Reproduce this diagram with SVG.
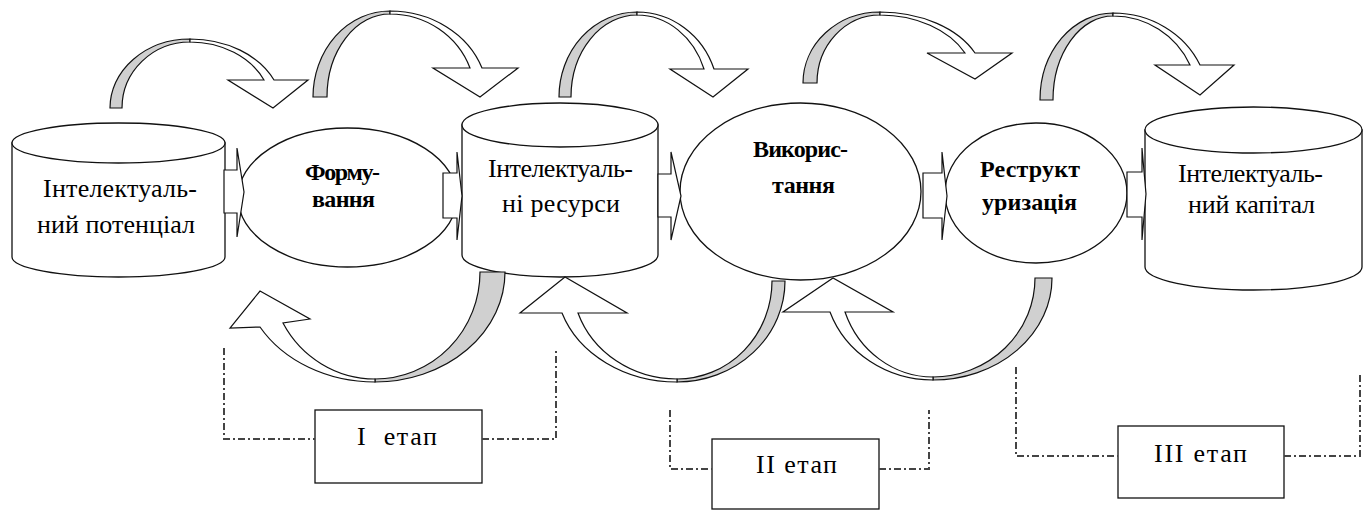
<svg xmlns="http://www.w3.org/2000/svg" width="1370" height="512" viewBox="0 0 1370 512">
<style>
.n{fill:#fff;stroke:#111;stroke-width:1.3}
.g{fill:#d0d0d0;stroke:#111;stroke-width:1.2}
.w{fill:#fff;stroke:#111;stroke-width:1.2}
.dd{fill:none;stroke:#444;stroke-width:2;stroke-dasharray:7 3 2 3}
.t{font-family:"Liberation Serif","Times New Roman",serif;font-size:26px;fill:#000}
.b{font-family:"Liberation Serif","Times New Roman",serif;font-size:24px;font-weight:bold;fill:#000}
</style>
<rect width="1370" height="512" fill="#fff"/>

<g id="node-potential">
<path class="n" d="M12,143 L12,257 A106.5,20 0 0 0 225,257 L225,143 Z"/>
<ellipse class="n" cx="118.5" cy="143" rx="106.5" ry="20"/>
<text class="t" x="43" y="197" textLength="154" lengthAdjust="spacing">Інтелектуаль-</text>
<text class="t" x="37" y="233" textLength="158" lengthAdjust="spacing">ний потенціал</text>
</g>

<g id="node-formation">
<ellipse class="n" cx="347.5" cy="197.5" rx="109.5" ry="69.5"/>
<text class="b" x="305" y="180" textLength="75" lengthAdjust="spacing">Форму-</text>
<text class="b" x="312" y="207" textLength="63" lengthAdjust="spacing">вання</text>
</g>

<g id="node-resources">
<path class="n" d="M462,125 L462,255 A98,22 0 0 0 658,255 L658,125 Z"/>
<ellipse class="n" cx="560" cy="125" rx="98" ry="22"/>
<text class="t" x="488" y="177" textLength="145" lengthAdjust="spacing">Інтелектуаль-</text>
<text class="t" x="502" y="212" textLength="118" lengthAdjust="spacing">ні ресурси</text>
</g>

<g id="node-usage">
<ellipse class="n" cx="800.5" cy="191.5" rx="120.5" ry="88.5"/>
<text class="b" x="753" y="157" textLength="95" lengthAdjust="spacing">Викорис-</text>
<text class="b" x="772" y="193" textLength="63" lengthAdjust="spacing">тання</text>
</g>

<g id="node-restructuring">
<ellipse class="n" cx="1036" cy="193" rx="91" ry="70"/>
<text class="b" x="980" y="177" textLength="100" lengthAdjust="spacing">Реструкт</text>
<text class="b" x="982" y="210" textLength="95" lengthAdjust="spacing">уризація</text>
</g>

<g id="node-capital">
<path class="n" d="M1145,130 L1145,267 A108.5,23 0 0 0 1362,267 L1362,130 Z"/>
<ellipse class="n" cx="1253.5" cy="130" rx="108.5" ry="23"/>
<text class="t" x="1178" y="182" textLength="145" lengthAdjust="spacing">Інтелектуаль-</text>
<text class="t" x="1188" y="213" textLength="127" lengthAdjust="spacing">ний капітал</text>
</g>

<g id="stage-1">
<rect class="n" x="315" y="410" width="167" height="73"/>
<text class="t" x="357" y="445" textLength="80" lengthAdjust="spacing" xml:space="preserve">I  етап</text>
</g>
<g id="stage-2">
<rect class="n" x="712" y="439" width="167" height="70"/>
<text class="t" x="756" y="473" textLength="81" lengthAdjust="spacing">II етап</text>
</g>
<g id="stage-3">
<rect class="n" x="1118" y="426" width="166" height="72"/>
<text class="t" x="1154" y="462" textLength="93" lengthAdjust="spacing">III етап</text>
</g>

<g id="connectors">
<path class="g" d="M110,108 A80,69 0 0 1 190,39 L190,42 A68,66 0 0 0 122,108 Z"/>
<path class="w" d="M190,39 A91.9,69 0 0 1 274,80 L308,80 L273,108 L228,80 L264,80 A81.7,66 0 0 0 190,42 Z"/>
<path class="g" d="M313,97 A77,86 0 0 1 390,11 L390,14 A63,83 0 0 0 327,97 Z"/>
<path class="w" d="M390,11 A97.7,86 0 0 1 482,68 L518,68 L480,97 L433,68 L470,68 A85.4,83 0 0 0 390,14 Z"/>
<path class="g" d="M559,97 A78,85 0 0 1 637,12 L637,15 A66,82 0 0 0 571,97 Z"/>
<path class="w" d="M637,12 A81.5,85 0 0 1 714,69 L748,69 L713,97 L670,69 L704,69 A71.3,82 0 0 0 637,15 Z"/>
<path class="g" d="M803,83 A77,71 0 0 1 880,12 L880,15 A63,68 0 0 0 817,83 Z"/>
<path class="w" d="M880,12 A104.8,71 0 0 1 975,53 L1012,53 L975,79 L927,53 L965,53 A94.7,68 0 0 0 880,15 Z"/>
<path class="g" d="M1040,100 A73,87 0 0 1 1113,13 L1113,16 A60,84 0 0 0 1053,100 Z"/>
<path class="w" d="M1113,13 A95,87 0 0 1 1200,65 L1234,65 L1200,95 L1155,65 L1190,65 A84.7,84 0 0 0 1113,16 Z"/>
<path class="g" d="M505,272 A130,110 0 0 1 375,382 L375,379 A105,107 0 0 0 480,272 Z"/>
<path class="w" d="M375,382 A132.8,110 0 0 1 260,327 L230,328 L260,291 L310,319 L283,323 A104.7,107 0 0 0 375,379 Z"/>
<path class="g" d="M785,281 A108,101 0 0 1 677,382 L677,379 A95,98 0 0 0 772,281 Z"/>
<path class="w" d="M677,382 A121.3,101 0 0 1 562,313 L520,313 L565,277 L627,313 L578,313 A104.8,98 0 0 0 677,379 Z"/>
<path class="g" d="M1052,278 A119,102 0 0 1 933,380 L933,377 A102,99 0 0 0 1035,278 Z"/>
<path class="w" d="M933,380 A109.2,102 0 0 1 830,312 L783,312 L833,278 L893,312 L845,312 A93.7,99 0 0 0 933,377 Z"/>
<path class="w" d="M224,170 H237 V148 L244,192 L237,237 V213 H224 Z"/>
<path class="w" d="M443,173 H457 V152 L462,196 L457,240 V218 H443 Z"/>
<path class="w" d="M658,174 H671 V152 L681,196 L671,240 V217 H658 Z"/>
<path class="w" d="M923,173 H942 V152 L947,196 L942,240 V218 H923 Z"/>
<path class="w" d="M1127,172 H1142 V148 L1146,194 L1142,240 V217 H1127 Z"/>
<path class="dd" d="M224,348 V439 H315 M482,439 H556 V348"/>
<path class="dd" d="M670,410 V469 H712 M879,469 H929 V410"/>
<path class="dd" d="M1016,367 V456 H1118 M1284,456 H1360 V372"/>
</g>
</svg>
